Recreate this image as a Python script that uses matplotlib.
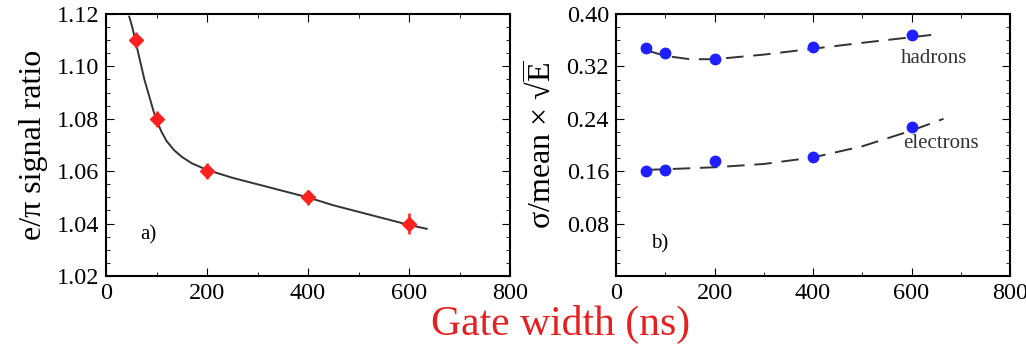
import matplotlib
matplotlib.use("Agg")
import matplotlib.pyplot as plt
from matplotlib.ticker import MultipleLocator

plt.rcParams['font.family'] = ['Liberation Serif', 'DejaVu Serif']
plt.rcParams['mathtext.fontset'] = 'custom'
plt.rcParams['mathtext.rm'] = 'Liberation Serif'

# panel a) e/pi signal ratio
gate = [60, 100, 200, 400, 600]
ratio = [1.110, 1.080, 1.060, 1.050, 1.040]
ratio_err = [0.003, 0.003, 0.003, 0.003, 0.004]
fit_x = [46, 52, 58, 64, 70, 76, 82, 88, 94, 100, 110, 120, 135, 150, 170, 200, 250, 300, 350, 400, 450, 500, 550, 600, 635]
fit_y = [1.119, 1.115, 1.110, 1.105, 1.100, 1.095, 1.091, 1.087, 1.083, 1.0795, 1.075, 1.0715, 1.068, 1.0655, 1.063, 1.0605, 1.0575, 1.055, 1.0525, 1.050, 1.047, 1.0445, 1.042, 1.0395, 1.038]

# panel b) resolution
hadrons = [0.348, 0.341, 0.332, 0.350, 0.368]
electrons = [0.161, 0.162, 0.176, 0.181, 0.228]
had_fit_x = [60, 100, 150, 200, 300, 400, 500, 640]
had_fit_y = [0.345, 0.336, 0.331, 0.331, 0.338, 0.347, 0.356, 0.368]
ele_fit_x = [60, 100, 200, 300, 400, 500, 600, 665]
ele_fit_y = [0.162, 0.163, 0.166, 0.171, 0.181, 0.198, 0.222, 0.240]

fig = plt.figure(figsize=(10.26, 3.46), dpi=100)
ax1 = fig.add_axes([106/1026, 70/346, 404/1026, 262/346])
ax2 = fig.add_axes([616/1026, 70/346, 394/1026, 262/346])

ax1.plot(fit_x, fit_y, color='#333333', lw=1.4)
ax1.errorbar(gate, ratio, yerr=ratio_err, fmt='D', color='#ff2020', ms=7, elinewidth=1.8, capsize=0)
ax1.set_xlim(0, 800)
ax1.set_ylim(1.02, 1.12)
ax1.yaxis.set_major_locator(MultipleLocator(0.02))
ax1.yaxis.set_minor_locator(MultipleLocator(0.005))
ax1.set_ylabel('e/π signal ratio', fontsize=23, labelpad=6)
ax1.text(68, 1.034, 'a)', fontsize=15)

ax2.plot(had_fit_x, had_fit_y, color='#333333', lw=1.4, dashes=(9, 5))
ax2.plot(ele_fit_x, ele_fit_y, color='#333333', lw=1.4, dashes=(9, 5))
ax2.plot(gate, hadrons, 'o', color='#2020ff', ms=7.5)
ax2.plot(gate, electrons, 'o', color='#2020ff', ms=7.5)
ax2.set_xlim(0, 800)
ax2.set_ylim(0.0, 0.40)
ax2.set_yticks([0.08, 0.16, 0.24, 0.32, 0.40])
ax2.yaxis.set_minor_locator(MultipleLocator(0.02))
ax2.set_ylabel(r'σ/mean × √$\overline{\rm E}$', fontsize=23, labelpad=6)
ax2.text(645, 0.325, 'hadrons', fontsize=15, ha='center', color='#333333')
ax2.text(660, 0.195, 'electrons', fontsize=15, ha='center', color='#333333')
ax2.text(72, 0.042, 'b)', fontsize=15)

for ax in (ax1, ax2):
    ax.xaxis.set_major_locator(MultipleLocator(200))
    ax.xaxis.set_minor_locator(MultipleLocator(100))
    ax.tick_params(which='both', direction='in', top=True, right=True, labelsize=17.5)
    ax.tick_params(which='major', length=6, pad=5)
    ax.tick_params(which='minor', length=3)
    for s in ax.spines.values():
        s.set_linewidth(1.5)
    ax.set_yticklabels([f'{t:.2f}' for t in ax.get_yticks()])

fig.text(0.546, 0.005, 'Gate width (ns)', color='#e52020', fontsize=30, ha='center', va='bottom')

fig.savefig('out.png', dpi=100)
